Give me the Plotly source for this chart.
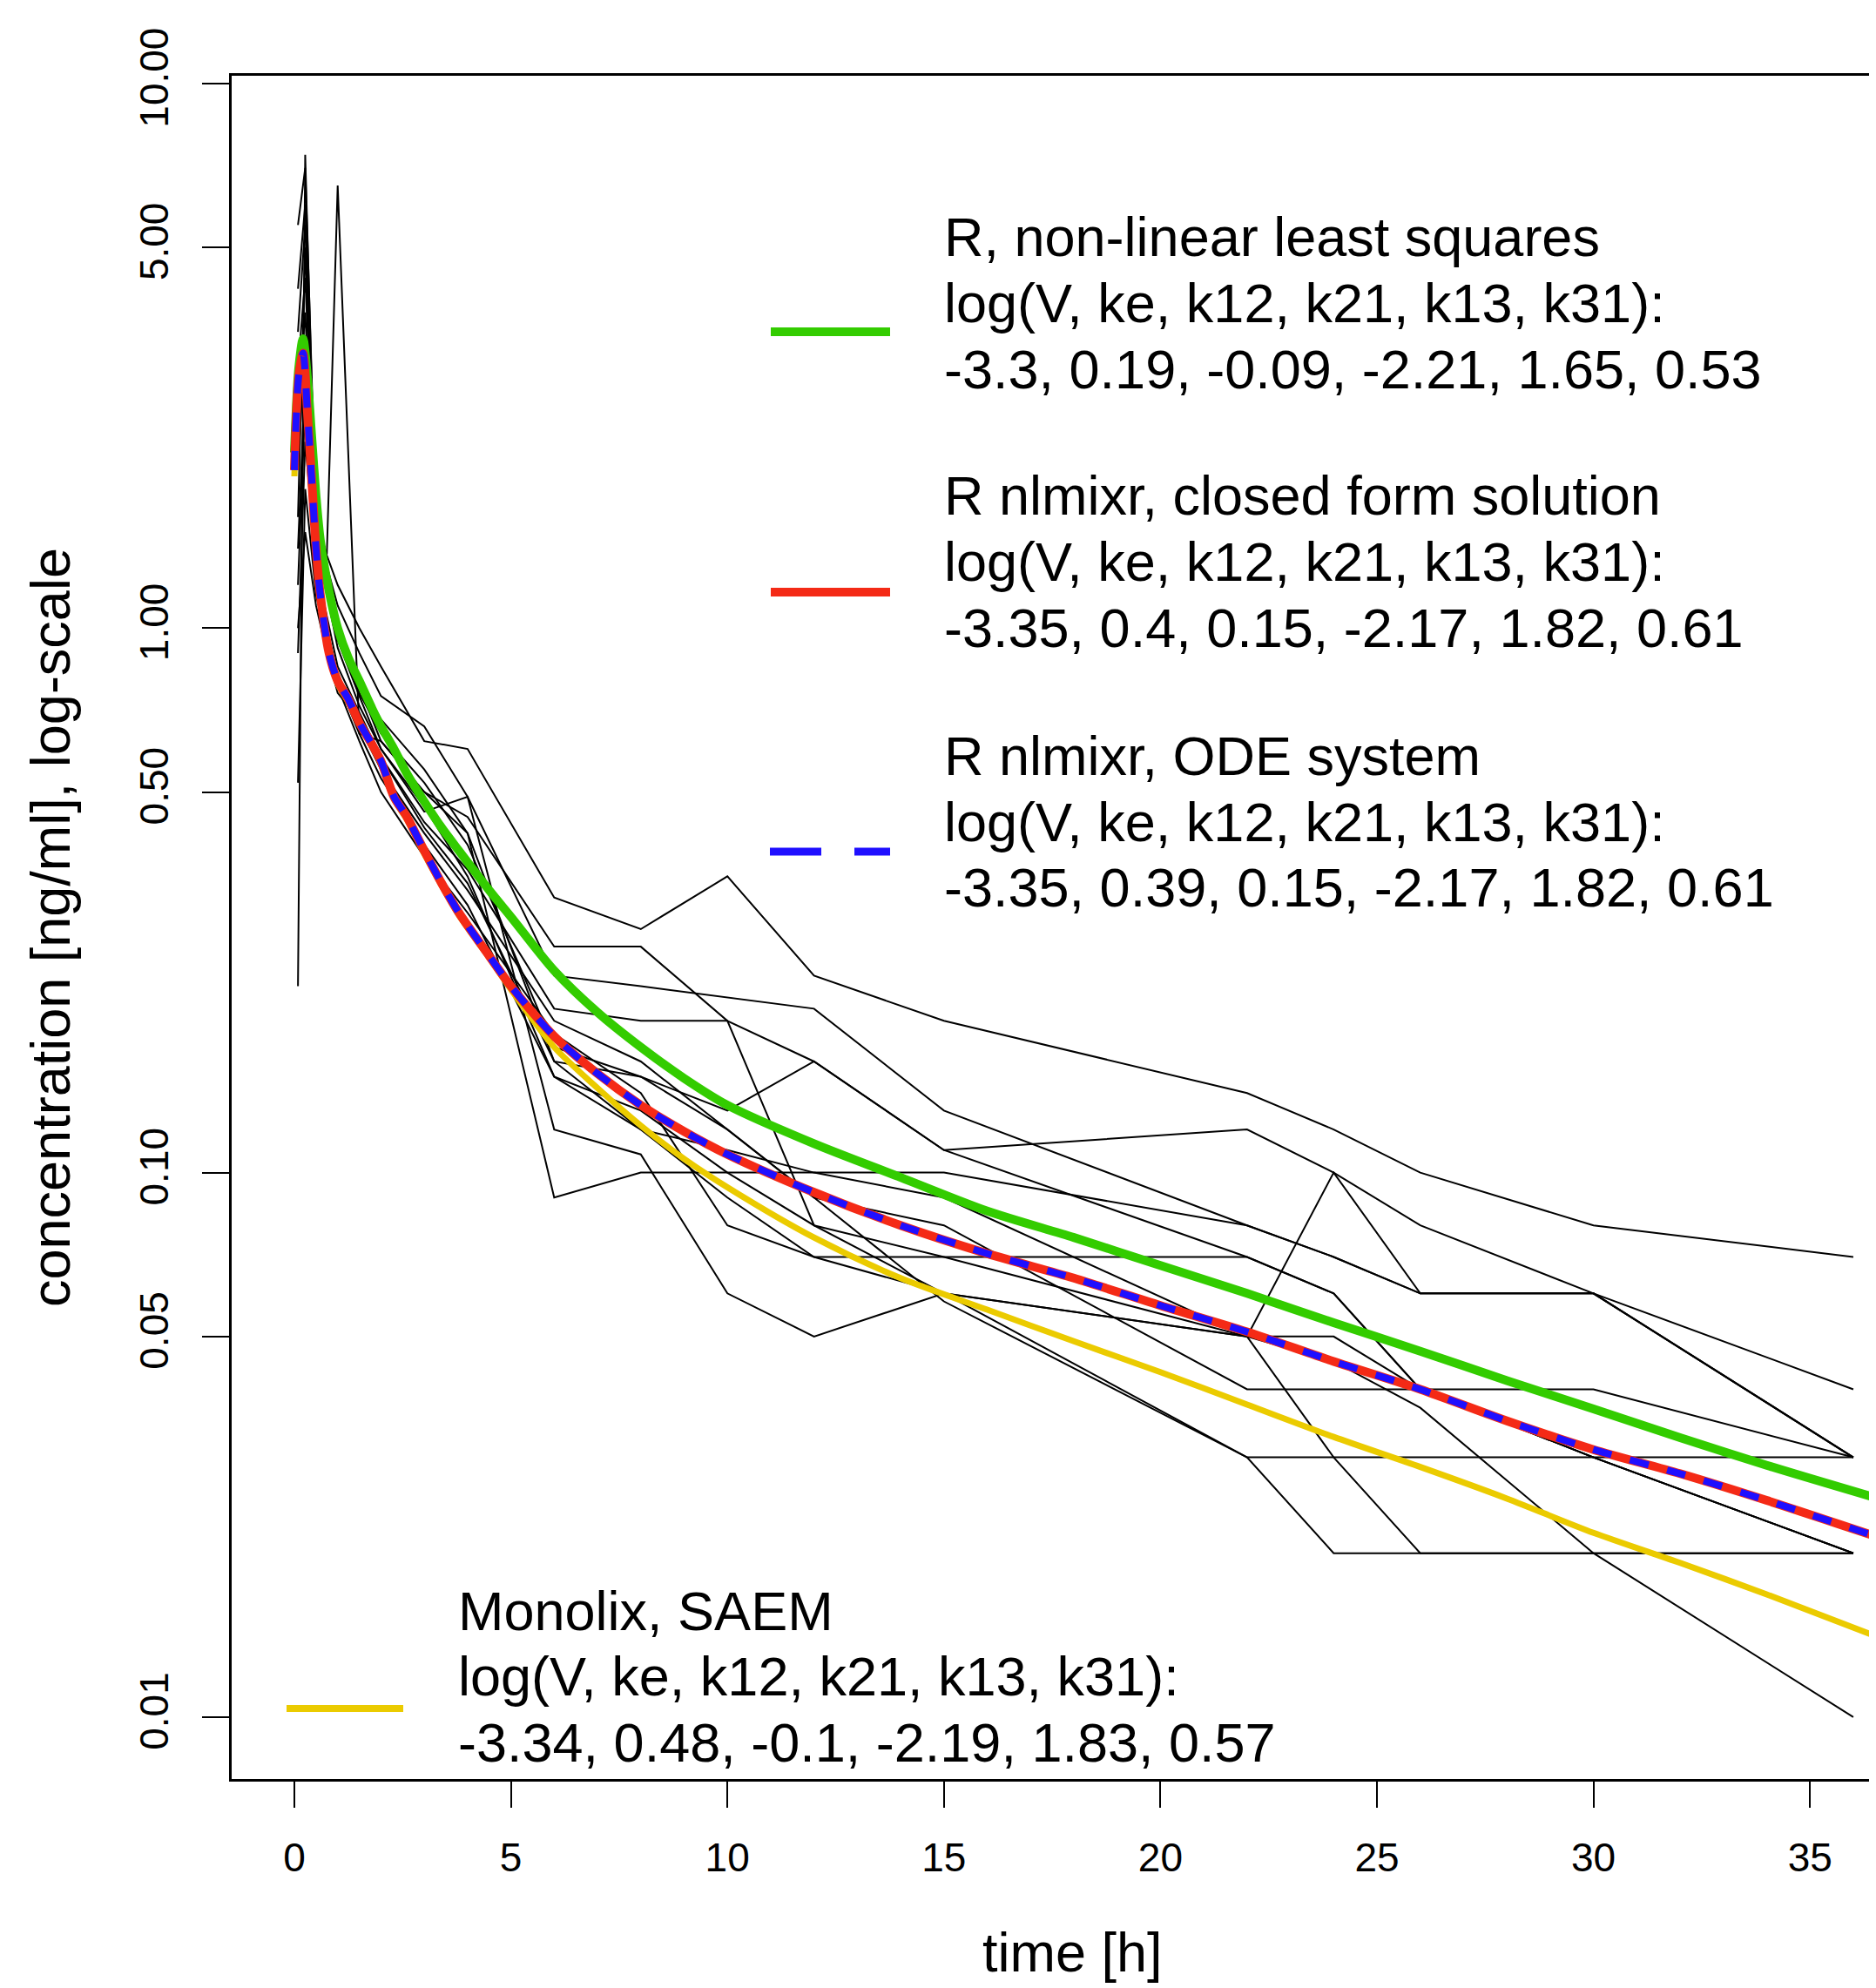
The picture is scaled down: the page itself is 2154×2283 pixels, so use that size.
import plotly.graph_objects as go

# ---------------- data ----------------
# sampling times [h] for the individual profiles
time_obs = [0.083, 0.25, 0.5, 0.75, 1, 1.5, 2, 3, 4, 6, 8, 10, 12, 15, 22, 24, 26, 30, 36]

# individual concentration profiles [ng/ml]
conc_s01 = [1.6, 5.0, 1.6, 1.36, 1.20, 1.00, 0.85, 0.62, 0.60, 0.32, 0.28, 0.35, 0.23, 0.19, 0.14, 0.12, 0.10, 0.08, 0.07]
conc_s02 = [0.9, 2.2, 1.3, 1.37, 6.5, 0.64, 0.62, 0.50, 0.45, 0.26, 0.26, 0.19, 0.16, 0.11, 0.12, 0.10, 0.08, 0.06, 0.04]
conc_s03 = [3.0, 4.4, 1.5, 1.30, 1.10, 0.90, 0.75, 0.66, 0.49, 0.23, 0.22, 0.21, 0.20, 0.13, 0.08, 0.07, 0.06, 0.06, 0.03]
conc_s04 = [2.5, 3.8, 1.4, 1.20, 1.00, 0.80, 0.68, 0.55, 0.42, 0.16, 0.15, 0.13, 0.16, 0.11, 0.07, 0.06, 0.04, 0.04, 0.03]
conc_s05 = [0.22, 7.4, 1.45, 1.15, 0.92, 0.72, 0.60, 0.46, 0.49, 0.12, 0.108, 0.06, 0.05, 0.06, 0.05, 0.045, 0.037, 0.02, 0.01]
conc_s06 = [4.2, 6.0, 1.55, 1.25, 1.00, 0.78, 0.62, 0.50, 0.42, 0.09, 0.10, 0.10, 0.10, 0.10, 0.08, 0.07, 0.06, 0.06, 0.03]
conc_s07 = [2.0, 3.3, 1.3, 1.05, 0.85, 0.70, 0.58, 0.44, 0.36, 0.20, 0.19, 0.19, 0.08, 0.06, 0.05, 0.10, 0.06, 0.06, 0.03]
conc_s08 = [1.2, 2.6, 1.25, 1.00, 0.82, 0.66, 0.55, 0.42, 0.33, 0.19, 0.16, 0.12, 0.09, 0.058, 0.03, 0.03, 0.03, 0.03, 0.03]
conc_s09 = [1.4, 2.9, 1.3, 1.00, 0.80, 0.64, 0.53, 0.40, 0.31, 0.15, 0.12, 0.09, 0.07, 0.06, 0.03, 0.02, 0.02, 0.02, 0.02]
conc_s10 = [3.5, 5.5, 1.5, 1.15, 0.95, 0.75, 0.60, 0.47, 0.35, 0.15, 0.13, 0.10, 0.08, 0.07, 0.07, 0.06, 0.04, 0.03, 0.02]
conc_s11 = [5.5, 7.0, 1.6, 1.20, 0.98, 0.76, 0.64, 0.52, 0.40, 0.17, 0.15, 0.12, 0.09, 0.08, 0.04, 0.04, 0.04, 0.03, 0.02]
conc_s12 = [0.52, 1.8, 1.15, 0.95, 0.78, 0.62, 0.50, 0.38, 0.30, 0.18, 0.14, 0.08, 0.07, 0.07, 0.05, 0.03, 0.02, 0.02, 0.02]
conc_s13 = [1.0, 1.5, 1.1, 0.90, 0.76, 0.68, 0.58, 0.43, 0.34, 0.16, 0.12, 0.11, 0.10, 0.09, 0.05, 0.05, 0.04, 0.03, 0.02]
subjects = [conc_s01, conc_s02, conc_s03, conc_s04, conc_s05, conc_s06, conc_s07,
            conc_s08, conc_s09, conc_s10, conc_s11, conc_s12, conc_s13]

# model prediction curves
time_model = [0, 0.1, 0.2, 0.3, 0.4, 0.5, 0.6, 0.8, 1.0, 1.25, 1.5, 1.8, 2.0, 2.3, 2.6, 3.0, 3.4, 3.8,
              4.5, 5, 6, 7, 8, 9, 10, 12, 14, 16, 18, 20, 22, 24, 26, 28, 30, 32, 34, 36.5]
pred_nls = [2.1, 3.0, 3.4, 2.9, 2.25, 1.75, 1.45, 1.17, 1.00, 0.88, 0.80, 0.71, 0.66, 0.60, 0.54, 0.48, 0.43, 0.39,
            0.33, 0.295, 0.235, 0.197, 0.170, 0.149, 0.133, 0.113, 0.098, 0.085, 0.076, 0.0675, 0.060, 0.053,
            0.047, 0.0415, 0.0368, 0.0326, 0.029, 0.0253]
pred_closed = [1.95, 2.9, 3.2, 2.5, 1.88, 1.40, 1.15, 0.90, 0.80, 0.74, 0.67, 0.61, 0.57, 0.49, 0.45, 0.39, 0.34, 0.30,
               0.25, 0.22, 0.178, 0.152, 0.133, 0.119, 0.108, 0.092, 0.080, 0.071, 0.064, 0.057, 0.051, 0.045,
               0.040, 0.035, 0.031, 0.028, 0.025, 0.0215]
pred_ode = [1.95, 2.9, 3.2, 2.5, 1.88, 1.40, 1.15, 0.90, 0.80, 0.74, 0.67, 0.61, 0.57, 0.49, 0.45, 0.39, 0.34, 0.30,
            0.25, 0.22, 0.178, 0.152, 0.133, 0.119, 0.108, 0.092, 0.080, 0.071, 0.064, 0.057, 0.051, 0.045,
            0.040, 0.035, 0.031, 0.028, 0.025, 0.0215]
pred_saem = [1.9, 2.8, 3.1, 2.45, 1.85, 1.38, 1.13, 0.89, 0.79, 0.73, 0.665, 0.605, 0.565, 0.485, 0.445, 0.385, 0.337,
             0.297, 0.248, 0.217, 0.170, 0.143, 0.122, 0.106, 0.094, 0.076, 0.064, 0.056, 0.049, 0.043, 0.0375,
             0.0327, 0.0288, 0.0252, 0.0218, 0.0192, 0.0168, 0.0141]

x_ticks = [0, 5, 10, 15, 20, 25, 30, 35]
y_ticks = [0.01, 0.05, 0.1, 0.5, 1, 5, 10]
y_ticktext = ["0.01", "0.05", "0.10", "0.50", "1.00", "5.00", "10.00"]

legend_titles = ["R, non-linear least squares", "R nlmixr, closed form solution",
                 "R nlmixr, ODE system", "Monolix, SAEM"]
legend_params = ["-3.3, 0.19, -0.09, -2.21, 1.65, 0.53", "-3.35, 0.4, 0.15, -2.17, 1.82, 0.61",
                 "-3.35, 0.39, 0.15, -2.17, 1.82, 0.61", "-3.34, 0.48, -0.1, -2.19, 1.83, 0.57"]
param_label = "log(V, ke, k12, k21, k13, k31):"

# ---------------- styling ----------------
OFF = 8                       # page body margin of the html page
W, H = 2154 - OFF, 2283 - OFF
L_M, R_M, T_M, B_M = 266 - OFF, 0, 87 - OFF, 240
FONT = "Liberation Sans, Arial, sans-serif"
C_GREEN, C_RED, C_BLUE, C_YELLOW = "#33cc00", "#f42a16", "#1f0fff", "#ebcb00"

fig = go.Figure()
for s in subjects:
    fig.add_trace(go.Scatter(x=time_obs, y=s, mode="lines",
                             line=dict(color="black", width=2), hoverinfo="skip"))

fig.add_trace(go.Scatter(x=time_model, y=pred_saem, mode="lines",
                         line=dict(color=C_YELLOW, width=7, shape="spline", smoothing=0.8)))
fig.add_trace(go.Scatter(x=time_model, y=pred_nls, mode="lines",
                         line=dict(color=C_GREEN, width=10, shape="spline", smoothing=0.8)))
fig.add_trace(go.Scatter(x=time_model, y=pred_closed, mode="lines",
                         line=dict(color=C_RED, width=10, shape="spline", smoothing=0.8)))
fig.add_trace(go.Scatter(x=time_model, y=pred_ode, mode="lines",
                         line=dict(color=C_BLUE, width=8, dash="22px,22px", shape="spline", smoothing=0.8)))

pw = W - L_M - R_M
ph = H - T_M - B_M


def px(X):
    """page pixel x -> paper coordinate"""
    return (X - OFF - L_M) / pw


def py(Y):
    """page pixel y -> paper coordinate"""
    return (H - B_M - (Y - OFF)) / ph


annotations = []
shapes = []
# legend block: (text left X, line Y centres, sample x0, x1, sample Y, colour, width, dashed)
blocks = [
    (1082, [272, 348, 424], 885, 1022, 381, C_GREEN, 10, False),
    (1082, [569, 645, 721], 885, 1022, 680, C_RED, 10, False),
    (1082, [868, 944, 1019], 885, 1022, 978, C_BLUE, 9, True),
    (524, [1850, 1925, 2001], 329, 463, 1962, C_YELLOW, 8, False),
]
for i, (tx, ys, sx0, sx1, sy, col, lw, dashed) in enumerate(blocks):
    texts = [legend_titles[i], param_label, legend_params[i]]
    for t, yy in zip(texts, ys):
        annotations.append(dict(xref="paper", yref="paper", x=px(tx), y=py(yy), text=t,
                                showarrow=False, xanchor="left", yanchor="middle",
                                font=dict(family=FONT, size=63, color="black")))
    if dashed:
        for a, b in [(884, 943), (981, 1022)]:
            shapes.append(dict(type="line", xref="paper", yref="paper", x0=px(a), x1=px(b),
                               y0=py(sy), y1=py(sy), line=dict(color=col, width=lw)))
    else:
        shapes.append(dict(type="line", xref="paper", yref="paper", x0=px(sx0), x1=px(sx1),
                           y0=py(sy), y1=py(sy), line=dict(color=col, width=lw)))

# axis titles
annotations.append(dict(xref="paper", yref="paper", x=px(1231), y=py(2242), text="time [h]",
                        showarrow=False, xanchor="center", yanchor="middle",
                        font=dict(family=FONT, size=63, color="black")))
annotations.append(dict(xref="paper", yref="paper", x=px(58), y=py(1065),
                        text="concentration [ng/ml], log-scale", textangle=-90,
                        showarrow=False, xanchor="center", yanchor="middle",
                        font=dict(family=FONT, size=63, color="black")))

fig.update_layout(
    width=W, height=H,
    margin=dict(l=L_M, r=R_M, t=T_M, b=B_M, pad=0, autoexpand=False),
    paper_bgcolor="white", plot_bgcolor="white",
    showlegend=False,
    font=dict(family=FONT, color="black"),
    annotations=annotations, shapes=shapes,
)
fig.update_xaxes(range=[-1.448, 36.524], tickvals=x_ticks, ticks="outside", ticklen=30,
                 tickwidth=2, tickcolor="black", tickfont=dict(family=FONT, size=46),
                 ticklabelstandoff=18, automargin=False,
                 showline=True, linewidth=3, linecolor="black", mirror=True,
                 showgrid=False, zeroline=False)
fig.update_yaxes(type="log", range=[-2.1137, 1.0144], tickvals=y_ticks, ticktext=y_ticktext,
                 tickangle=-90, ticks="outside", ticklen=31, tickwidth=2, tickcolor="black",
                 tickfont=dict(family=FONT, size=46), ticklabelstandoff=21, automargin=False,
                 showline=True, linewidth=3, linecolor="black", mirror=False,
                 showgrid=False, zeroline=False)

fig.write_html("out.html", config={"displayModeBar": False})
